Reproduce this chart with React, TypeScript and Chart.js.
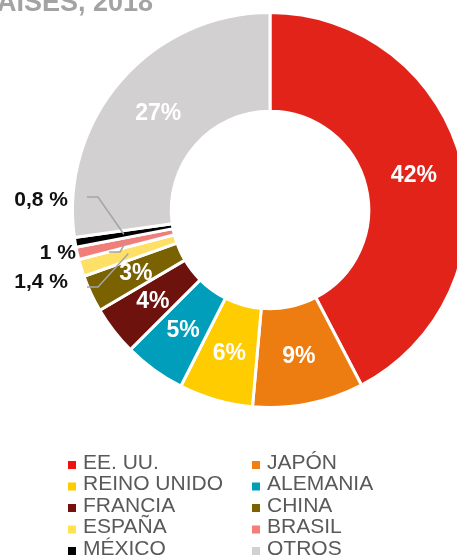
import React, { useEffect, useRef } from "react";
import { Chart, registerables } from "chart.js";

Chart.register(...registerables);

const categories = ["EE. UU.", "JAPÓN", "REINO UNIDO", "ALEMANIA", "FRANCIA", "CHINA", "ESPAÑA", "BRASIL", "MÉXICO", "OTROS"];
const shares = [42, 9, 6, 5, 4, 3, 1.4, 1, 0.8, 27];
const sliceColors = ["#E2231A", "#EE7D11", "#FFCC00", "#009EBA", "#6E120E", "#7A6200", "#FFE066", "#F07F7B", "#000000", "#D2D0D1"];
const legendColors = ["#F20F0F", "#F27E14", "#FFCC00", "#009EBA", "#75100C", "#7A6200", "#FFE34D", "#F57C78", "#000000", "#D2D0D1"];
const titleText = "POR PAÍSES, 2018";

const FONT = '"Liberation Sans", Arial, Helvetica, sans-serif';

// outside label layout (offsets from chart center) for small slices
const outsideLayout: Record<number, { ex: number; ey: number; hx: number; tx: number; ty: number }> = {
  8: { ex: -172, ey: -13, hx: -183, tx: -202, ty: -10 },
  7: { ex: -150, ey: 42, hx: -161, tx: -194, ty: 43 },
  6: { ex: -172, ey: 77, hx: -183, tx: -202, ty: 72 },
};

const labelPlugin = {
  id: "sliceLabels",
  afterDatasetsDraw(chart: any) {
    const ctx = chart.ctx;
    const meta = chart.getDatasetMeta(0);
    const ds = chart.data.datasets[0].data as number[];
    const first = meta.data[0];
    const cx = first.x;
    const cy = first.y;
    ctx.save();
    meta.data.forEach((arc: any, i: number) => {
      const v = ds[i];
      const p = arc.getCenterPoint();
      if (outsideLayout[i]) {
        const L = outsideLayout[i];
        ctx.strokeStyle = "#A5A5A5";
        ctx.lineWidth = 1.5;
        ctx.beginPath();
        ctx.moveTo(cx + L.hx, cy + L.ey);
        ctx.lineTo(cx + L.ex, cy + L.ey);
        ctx.lineTo(p.x, p.y);
        ctx.stroke();
        ctx.fillStyle = "#111111";
        ctx.font = `bold 21px ${FONT}`;
        ctx.textAlign = "right";
        ctx.textBaseline = "middle";
        ctx.fillText(String(v).replace(".", ",") + " %", cx + L.tx, cy + L.ty);
      } else {
        ctx.fillStyle = "#FFFFFF";
        ctx.font = `bold 23px ${FONT}`;
        ctx.textAlign = "center";
        ctx.textBaseline = "middle";
        ctx.fillText(`${v}%`, p.x, p.y + 1);
      }
    });
    ctx.restore();
  },
  afterDraw(chart: any) {
    const ctx = chart.ctx;
    ctx.save();
    // title (cropped at the top-left)
    ctx.fillStyle = "#A3A3A3";
    ctx.font = `bold 27px ${FONT}`;
    ctx.textAlign = "right";
    ctx.textBaseline = "alphabetic";
    ctx.fillText(titleText, 153, 11);
    // legend in two columns
    const labels = chart.data.labels as string[];
    ctx.font = `21px ${FONT}`;
    ctx.textBaseline = "middle";
    ctx.textAlign = "left";
    labels.forEach((lab, i) => {
      const col = i % 2;
      const row = Math.floor(i / 2);
      const bx = col === 0 ? 68 : 252;
      const yc = 462 + row * 21.5;
      ctx.fillStyle = legendColors[i];
      ctx.fillRect(bx, yc - 1, 8, 8);
      ctx.fillStyle = "#595959";
      ctx.fillText(lab, bx + 15, yc + 1);
    });
    ctx.restore();
  },
};

export default function App() {
  const ref = useRef<HTMLCanvasElement | null>(null);
  useEffect(() => {
    if (!ref.current) return;
    const chart = new Chart(ref.current, {
      type: "doughnut",
      data: {
        labels: categories,
        datasets: [
          {
            data: shares,
            backgroundColor: sliceColors,
            borderColor: "#FFFFFF",
            borderWidth: 3,
            hoverBorderWidth: 3,
          },
        ],
      },
      options: {
        responsive: false,
        animation: false,
        events: [],
        cutout: "50%",
        layout: { padding: { left: 71, top: 11, right: 11, bottom: 149 } },
        plugins: {
          legend: { display: false },
          title: { display: false },
          tooltip: { enabled: false },
        },
      } as any,
      plugins: [labelPlugin],
    });
    return () => chart.destroy();
  }, []);
  return (
    <div style={{ position: "absolute", left: 0, top: 0, width: 457, height: 558, overflow: "hidden", background: "#FFFFFF" }}>
      <canvas ref={ref} width={480} height={558} style={{ display: "block" }} />
    </div>
  );
}
